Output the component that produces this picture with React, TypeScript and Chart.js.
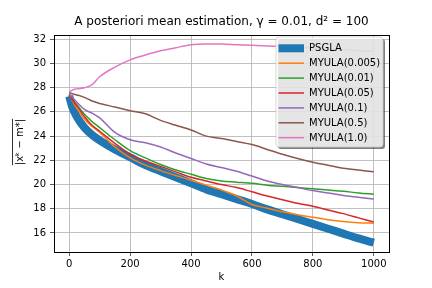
import React, { useEffect, useRef } from "react";
import { Chart, registerables } from "chart.js";

Chart.register(...registerables);

const kValues = [0, 10, 25, 50, 75, 100, 150, 200, 250, 300, 350, 400, 450, 500, 550, 600, 650, 700, 750, 800, 850, 900, 950, 1000];

const psgla = [27.3, 26.4, 25.6, 24.7, 24.1, 23.65, 22.9, 22.25, 21.6, 21.1, 20.6, 20.1, 19.6, 19.2, 18.8, 18.4, 17.95, 17.55, 17.15, 16.75, 16.35, 15.95, 15.55, 15.2];
const myula0005 = [27.4, 26.9, 26.3, 25.4, 24.8, 24.3, 23.1, 22.2, 21.6, 21.15, 20.75, 20.35, 19.95, 19.55, 19.05, 18.35, 18.05, 17.75, 17.5, 17.3, 17.1, 16.95, 16.85, 16.8];
const myula001 = [27.4, 27.0, 26.6, 25.8, 25.2, 24.7, 23.7, 22.8, 22.2, 21.65, 21.2, 20.85, 20.5, 20.3, 20.2, 20.1, 19.95, 19.85, 19.75, 19.65, 19.55, 19.45, 19.3, 19.2];
const myula005 = [27.4, 27.0, 26.5, 25.6, 24.9, 24.4, 23.4, 22.5, 21.95, 21.5, 21.05, 20.6, 20.3, 20.0, 19.75, 19.4, 19.05, 18.75, 18.45, 18.2, 17.9, 17.6, 17.25, 16.9];
const myula01 = [27.5, 27.2, 26.8, 26.2, 25.9, 25.5, 24.3, 23.7, 23.45, 23.1, 22.6, 22.15, 21.7, 21.4, 21.1, 20.7, 20.3, 20.0, 19.75, 19.5, 19.3, 19.1, 18.95, 18.8];
const myula05 = [27.6, 27.5, 27.4, 27.2, 26.9, 26.7, 26.4, 26.1, 25.85, 25.3, 24.9, 24.5, 24.0, 23.8, 23.55, 23.3, 22.9, 22.5, 22.15, 21.85, 21.6, 21.35, 21.2, 21.05];
const myula10 = [27.6, 27.8, 27.9, 28.0, 28.25, 28.9, 29.7, 30.3, 30.7, 31.05, 31.3, 31.55, 31.6, 31.6, 31.55, 31.5, 31.45, 31.4, 31.35, 31.3, 31.2, 31.15, 31.05, 31.0];

const seriesLabels = ["PSGLA", "MYULA(0.005)", "MYULA(0.01)", "MYULA(0.05)", "MYULA(0.1)", "MYULA(0.5)", "MYULA(1.0)"];
const seriesValues = [psgla, myula0005, myula001, myula005, myula01, myula05, myula10];
const seriesColors = ["#1f77b4", "#ff7f0e", "#2ca02c", "#d62728", "#9467bd", "#8c564b", "#e377c2"];
const seriesWidths = [8, 1.5, 1.5, 1.5, 1.5, 1.5, 1.5];

const xTicks = [0, 200, 400, 600, 800, 1000];
const yTicks = [16, 18, 20, 22, 24, 26, 28, 30, 32];

const FONT = "'DejaVu Sans', sans-serif";

const decorPlugin = {
  id: "decor",
  afterDraw(chart: any) {
    const ctx = chart.ctx as CanvasRenderingContext2D;
    const a = chart.chartArea;
    ctx.save();
    // spines
    ctx.strokeStyle = "#000";
    ctx.lineWidth = 1;
    ctx.strokeRect(Math.round(a.left) + 0.5, Math.round(a.top) + 0.5, Math.round(a.right - a.left), Math.round(a.bottom - a.top));
    // title
    ctx.fillStyle = "#000";
    ctx.font = `12px ${FONT}`;
    ctx.textAlign = "center";
    ctx.textBaseline = "middle";
    ctx.fillText("A posteriori mean estimation, γ = 0.01, d² = 100", (a.left + a.right) / 2, 22);
    // x label
    ctx.font = `10px ${FONT}`;
    ctx.fillText("k", (a.left + a.right) / 2, 277);
    // y label
    ctx.save();
    ctx.translate(20, 142);
    ctx.rotate(-Math.PI / 2);
    const yl = "|xᵏ − m*|";
    ctx.fillText(yl, 0, 0);
    const w = ctx.measureText(yl).width;
    ctx.beginPath();
    ctx.lineWidth = 0.8;
    ctx.moveTo(-w / 2, -7.5);
    ctx.lineTo(w / 2, -7.5);
    ctx.stroke();
    ctx.restore();
    // legend
    const bx = 276, by = 37, bw = 107, bh = 110, r = 3;
    const rr = (x: number, y: number) => {
      ctx.beginPath();
      ctx.moveTo(x + r, y);
      ctx.lineTo(x + bw - r, y);
      ctx.quadraticCurveTo(x + bw, y, x + bw, y + r);
      ctx.lineTo(x + bw, y + bh - r);
      ctx.quadraticCurveTo(x + bw, y + bh, x + bw - r, y + bh);
      ctx.lineTo(x + r, y + bh);
      ctx.quadraticCurveTo(x, y + bh, x, y + bh - r);
      ctx.lineTo(x, y + r);
      ctx.quadraticCurveTo(x, y, x + r, y);
      ctx.closePath();
    };
    rr(bx + 2, by + 2);
    ctx.fillStyle = "rgba(0,0,0,0.5)";
    ctx.fill();
    rr(bx, by);
    ctx.fillStyle = "rgba(255,255,255,0.8)";
    ctx.fill();
    ctx.strokeStyle = "rgba(204,204,204,0.8)";
    ctx.lineWidth = 1;
    ctx.stroke();
    ctx.font = `10px ${FONT}`;
    ctx.textAlign = "left";
    ctx.textBaseline = "middle";
    seriesLabels.forEach((lab, i) => {
      const y = 48.3 + i * 14.9;
      ctx.beginPath();
      ctx.strokeStyle = seriesColors[i];
      ctx.lineWidth = seriesWidths[i];
      ctx.moveTo(278.5, y);
      ctx.lineTo(304, y);
      ctx.stroke();
      ctx.fillStyle = "#000";
      ctx.fillText(lab, 309, y + 0.5);
    });
    ctx.restore();
  },
};

export default function App() {
  const ref = useRef<HTMLCanvasElement | null>(null);
  useEffect(() => {
    document.body.style.margin = "0";
    const canvas = ref.current;
    if (!canvas) return;
    const datasets = seriesLabels.map((label, i) => ({
      label,
      data: kValues.map((k, j) => ({ x: k, y: seriesValues[i][j] })),
      borderColor: seriesColors[i],
      backgroundColor: seriesColors[i],
      borderWidth: seriesWidths[i],
      pointRadius: 0,
      fill: false,
      cubicInterpolationMode: "monotone" as const,
      order: seriesLabels.length - i,
    }));
    const chart = new Chart(canvas, {
      type: "line",
      data: { datasets },
      plugins: [decorPlugin],
      options: {
        animation: false,
        responsive: false,
        devicePixelRatio: 1,
        layout: { padding: { left: 0, right: 43, top: 35, bottom: 0 } },
        plugins: { legend: { display: false }, title: { display: false }, tooltip: { enabled: false } },
        scales: {
          x: {
            type: "linear",
            min: -50,
            max: 1050,
            afterBuildTicks: (s: any) => { s.ticks = xTicks.map((v) => ({ value: v })); },
            afterFit: (s: any) => { s.height = 36; },
            grid: { color: "#b0b0b0", lineWidth: 0.8, tickLength: 4, tickColor: "#333", drawTicks: true },
            border: { display: false },
            ticks: { font: { family: FONT, size: 10 }, color: "#000", padding: 2, maxRotation: 0, autoSkip: false, callback: (v: any) => String(v) },
          },
          y: {
            type: "linear",
            min: 14.43,
            max: 32.35,
            afterBuildTicks: (s: any) => { s.ticks = yTicks.map((v) => ({ value: v })); },
            afterFit: (s: any) => { s.width = 54; },
            grid: { color: "#b0b0b0", lineWidth: 0.8, tickLength: 4, tickColor: "#333", drawTicks: true },
            border: { display: false },
            ticks: { font: { family: FONT, size: 10 }, color: "#000", padding: 4, autoSkip: false, callback: (v: any) => String(v) },
          },
        },
      },
    });
    return () => chart.destroy();
  }, []);
  return (
    <div style={{ width: 432, height: 288, position: "relative", background: "#fff" }}>
      <canvas ref={ref} width={432} height={288} style={{ display: "block", width: 432, height: 288 }} />
    </div>
  );
}
